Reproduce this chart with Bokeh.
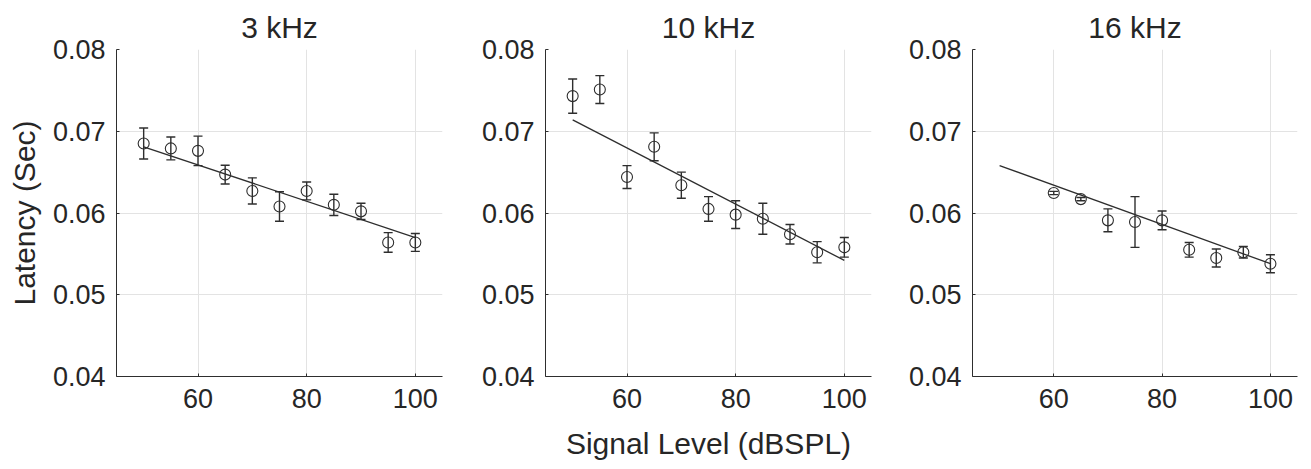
from bokeh.plotting import figure
from bokeh.layouts import row
from bokeh.models import ColumnDataSource, Whisker, TeeHead, FixedTicker, Range1d
from bokeh.embed import file_html
from bokeh.resources import INLINE

levels_3k = [50, 55, 60, 65, 70, 75, 80, 85, 90, 95, 100]
lat_3k = [0.0685, 0.0679, 0.0676, 0.0647, 0.0627, 0.0608, 0.0627, 0.0610, 0.0602, 0.0564, 0.0564]
err_3k = [0.0019, 0.0014, 0.0018, 0.00115, 0.0016, 0.0018, 0.0011, 0.0013, 0.0010, 0.0012, 0.0011]
fit_x_3k = [50, 100]
fit_y_3k = [0.0681, 0.0570]

levels_10k = [50, 55, 60, 65, 70, 75, 80, 85, 90, 95, 100]
lat_10k = [0.0743, 0.0751, 0.0644, 0.0681, 0.0634, 0.0605, 0.0598, 0.0593, 0.0574, 0.0552, 0.0558]
err_10k = [0.0021, 0.0017, 0.0014, 0.0017, 0.0016, 0.0015, 0.0017, 0.0019, 0.0012, 0.0013, 0.0012]
fit_x_10k = [50, 100]
fit_y_10k = [0.0714, 0.0542]

levels_16k = [60, 65, 70, 75, 80, 85, 90, 95, 100]
lat_16k = [0.06245, 0.0617, 0.0591, 0.0589, 0.0591, 0.0555, 0.0545, 0.0552, 0.0538]
err_16k = [0.0002, 0.0002, 0.0014, 0.0031, 0.00115, 0.0009, 0.0011, 0.0007, 0.0011]
fit_x_16k = [50, 100]
fit_y_16k = [0.0658, 0.0538]

titles = ["3 kHz", "10 kHz", "16 kHz"]
x_ticks = [60, 80, 100]
y_ticks = [0.04, 0.05, 0.06, 0.07, 0.08]
y_tick_labels = ["0.04", "0.05", "0.06", "0.07", "0.08"]

FONT = "Liberation Sans"
TXT = "#262626"
INK = "#2e2e2e"
GRID = "#e3e3e3"

panels = [
    (levels_3k, lat_3k, err_3k, fit_x_3k, fit_y_3k),
    (levels_10k, lat_10k, err_10k, fit_x_10k, fit_y_10k),
    (levels_16k, lat_16k, err_16k, fit_x_16k, fit_y_16k),
]
borders_left = [116, 93, 91]
borders_right = [10, 10, 4]
plot_w = [326, 326, 325]

figs = []
for i, (xs, ys, es, fx, fy) in enumerate(panels):
    w = borders_left[i] + plot_w[i] + borders_right[i]
    p = figure(width=w, height=466, output_backend="svg", toolbar_location=None,
               x_range=Range1d(45, 105), y_range=Range1d(0.04, 0.08),
               min_border_left=borders_left[i], min_border_right=borders_right[i],
               min_border_top=49, min_border_bottom=90, title=titles[i])
    p.title.text_font = FONT
    p.title.text_font_size = "30px"
    p.title.text_font_style = "normal"
    p.title.text_color = TXT
    p.title.align = "center"
    p.title.standoff = 12
    p.outline_line_color = None
    p.background_fill_color = "white"
    p.border_fill_color = "white"

    for ax in (p.xaxis[0], p.yaxis[0]):
        ax.axis_line_color = INK
        ax.major_tick_line_color = INK
        ax.major_tick_in = 3
        ax.major_tick_out = 0
        ax.minor_tick_line_color = None
        ax.major_label_text_font = FONT
        ax.major_label_text_font_size = "27px"
        ax.major_label_text_color = TXT
        ax.axis_label_text_font = FONT
        ax.axis_label_text_font_size = "30px"
        ax.axis_label_text_font_style = "normal"
        ax.axis_label_text_color = TXT
    p.xaxis.ticker = FixedTicker(ticks=x_ticks)
    p.yaxis.ticker = FixedTicker(ticks=y_ticks)
    p.yaxis.major_label_overrides = {t: l for t, l in zip(y_ticks, y_tick_labels)}
    p.xaxis.major_label_standoff = 12
    p.yaxis.major_label_standoff = 11
    if i == 0:
        p.yaxis.axis_label = "Latency (Sec)"
        p.yaxis.axis_label_standoff = 9
    if i == 1:
        p.xaxis.axis_label = "Signal Level (dBSPL)"
        p.xaxis.axis_label_standoff = 16

    p.xgrid.ticker = FixedTicker(ticks=x_ticks)
    p.ygrid.ticker = FixedTicker(ticks=y_ticks)
    p.grid.grid_line_color = GRID
    p.grid.grid_line_width = 1

    src = ColumnDataSource(dict(x=xs, y=ys,
                                lo=[y - e for y, e in zip(ys, es)],
                                hi=[y + e for y, e in zip(ys, es)]))
    p.line(fx, fy, line_color=INK, line_width=1.3)
    wk = Whisker(source=src, base="x", upper="hi", lower="lo",
                 line_color=INK, line_width=1.4,
                 upper_head=TeeHead(size=9, line_color=INK, line_width=1.4),
                 lower_head=TeeHead(size=9, line_color=INK, line_width=1.4))
    p.add_layout(wk)
    p.scatter("x", "y", source=src, marker="circle", size=11,
              fill_color=None, line_color=INK, line_width=1.1)
    figs.append(p)

layout = row(*figs, spacing=0)
open("out.html", "w").write(file_html(layout, INLINE))
